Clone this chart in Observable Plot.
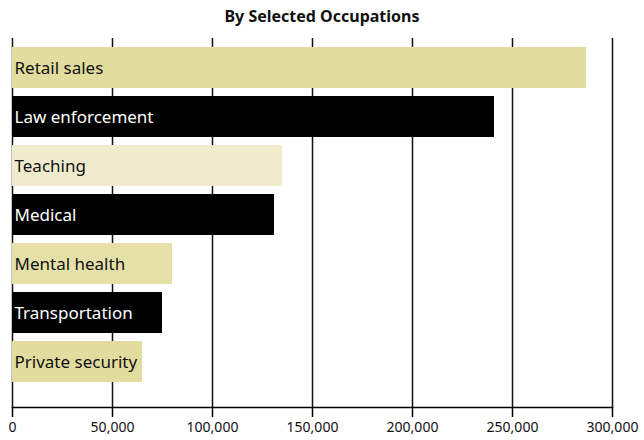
<!DOCTYPE html>
<html>
<head>
<meta charset="utf-8">
<script src="https://cdn.jsdelivr.net/npm/d3@7"></script>
<script src="https://cdn.jsdelivr.net/npm/@observablehq/plot@0.6"></script>
<style>
  body { margin: 0; background: #fff; }
  #wrap { position: relative; width: 644px; height: 440px; }
  #title { position: absolute; left: 0; top: 5px; width: 644px; text-align: center; line-height: 22px;
           font-family: "Noto Sans", sans-serif; font-weight: bold; font-size: 16px; color: #111; }
  svg { font-family: "Noto Sans", sans-serif; }
</style>
</head>
<body>
<div id="wrap"><div id="title">By Selected Occupations</div><div id="chart"></div></div>
<script>
const occupations = ["Retail sales", "Law enforcement", "Teaching", "Medical", "Mental health", "Transportation", "Private security"];
const counts = [287000, 241000, 135000, 131000, 80000, 75000, 65000];
const barColors = ["#e2dc9f", "#000000", "#efebcc", "#000000", "#e5e0a8", "#000000", "#e2dc9f"];
const labelColors = ["#111111", "#ffffff", "#111111", "#ffffff", "#111111", "#ffffff", "#111111"];
const xTicks = [0, 50000, 100000, 150000, 200000, 250000, 300000];

const data = occupations.map((o, i) => ({occupation: o, value: counts[i], fill: barColors[i], label: labelColors[i]}));

const chart = Plot.plot({
  width: 644,
  height: 440,
  marginLeft: 12,
  marginRight: 32,
  marginTop: 38,
  marginBottom: 33,
  x: {domain: [0, 300000]},
  y: {domain: occupations, range: [38.3, 391.8], padding: 0.156, axis: null},
  marks: [
    Plot.gridX(xTicks, {stroke: "#111", strokeOpacity: 1, strokeWidth: 1.5}),
    Plot.barX(data, {x: "value", y: "occupation", fill: "fill"}),
    Plot.text(data, {x: 0, y: "occupation", text: "occupation", fill: "label", textAnchor: "start", dx: 2, dy: 1, fontSize: 17}),
    Plot.frame({anchor: "bottom", stroke: "#000", strokeWidth: 1.5}),
    Plot.axisX({ticks: xTicks, tickSize: 10, tickPadding: 5, tickFormat: d3.format(","), fontSize: 14, stroke: "#000", strokeWidth: 1.5, color: "#111", label: null})
  ]
});
document.getElementById("chart").appendChild(chart);
</script>
</body>
</html>
